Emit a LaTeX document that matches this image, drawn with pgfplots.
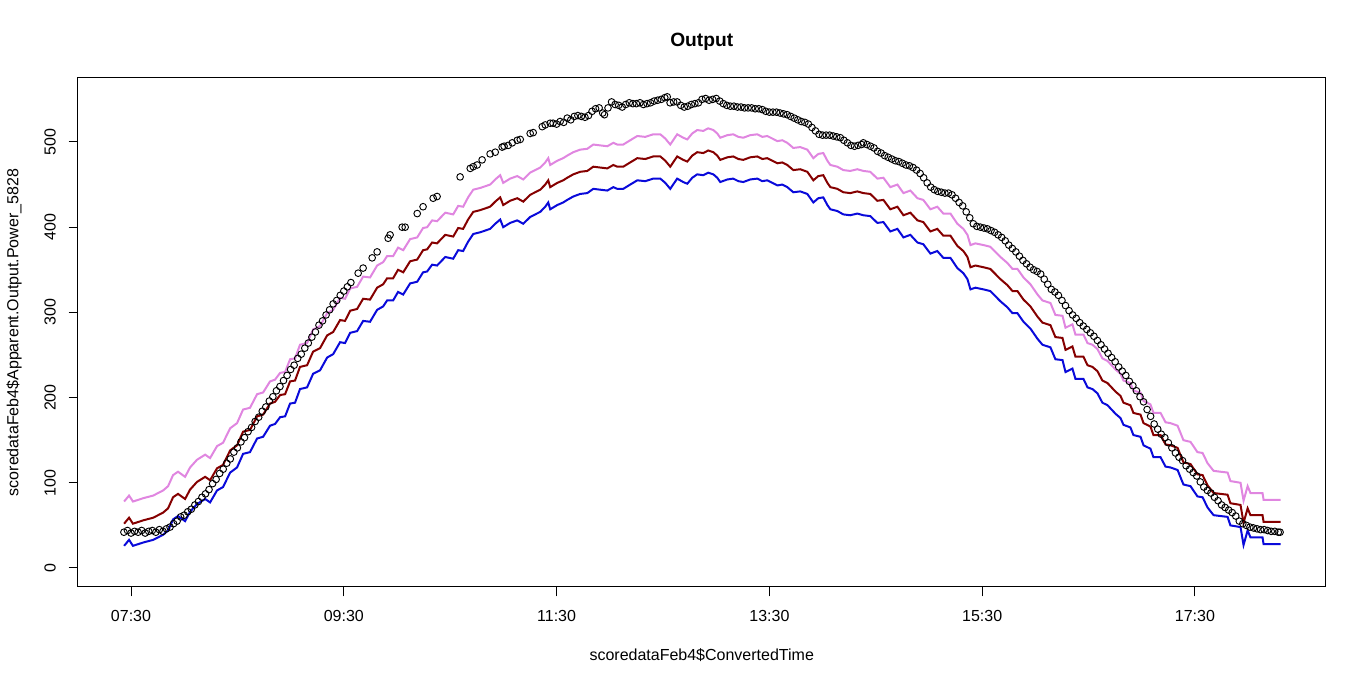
\documentclass[border=0pt,12pt]{standalone}
\usepackage{fontspec}
\setmainfont{Liberation Sans}
\usepackage{pgfplots}
\usepackage{pgfplotstable}
\pgfplotsset{compat=1.18}

\definecolor{rviolet}{HTML}{E086E0}
\definecolor{rdarkred}{HTML}{850000}
\definecolor{rblue}{HTML}{0A0ADA}

% minutes after midnight; lo / fit / hi
\pgfplotstableread{
t lo fit hi
446.1 26 52 78
448.9 33 59 85
451.1 26 52 78
457.0 30 56 82
462.5 33 59 85
468.1 39 65 91
470.9 44 70 96
473.7 57 83 109
476.5 61 87 113
480.5 55 81 107
483.3 66 92 118
487.2 75 101 127
491.8 81 107 133
494.6 77 103 129
498.5 91 117 143
501.9 95 121 147
505.9 112 138 164
509.8 118 144 170
513.2 134 160 186
517.1 136 162 188
521.1 152 178 204
524.5 154 180 206
528.4 167 193 219
531.2 169 195 221
534.1 177 203 229
536.9 178 204 230
539.7 193 219 245
542.5 194 220 246
545.3 210 236 262
549.3 212 238 264
552.7 228 254 280
556.6 232 258 284
560.6 247 273 299
564.0 251 277 303
567.9 265 291 317
570.7 264 290 316
573.6 276 302 328
577.5 278 304 330
580.9 290 316 342
584.8 289 315 341
588.8 303 329 355
592.2 307 333 359
594.4 314 340 366
597.8 314 340 366
600.6 324 350 376
603.5 321 347 373
607.4 334 360 386
611.4 336 362 388
614.7 347 373 399
617.0 348 374 400
619.8 356 382 408
622.6 355 381 407
627.2 365 391 417
631.7 363 389 415
634.5 373 399 425
637.3 372 398 424
640.1 383 409 435
643.0 392 418 444
646.9 394 420 446
652.5 398 424 450
655.4 404 430 456
658.2 409 435 461
659.9 400 426 452
663.8 405 431 457
667.8 408 434 460
671.2 404 430 456
675.1 412 438 464
680.8 418 444 470
683.6 424 450 476
685.3 429 455 481
686.4 421 447 473
690.4 426 452 478
693.7 429 455 481
696.0 432 458 484
699.4 436 462 488
703.3 439 465 491
707.3 440 466 492
710.7 445 471 497
714.6 444 470 496
718.6 443 469 495
722.0 447 473 499
724.2 445 471 497
727.6 445 471 497
731.5 450 476 502
735.5 455 481 507
740.0 454 480 506
744.5 457 483 509
748.5 457 483 509
751.3 452 478 504
754.1 445 471 497
758.0 457 483 509
761.4 453 479 505
763.7 451 477 503
766.5 458 484 510
769.3 462 488 514
772.7 461 487 513
775.5 464 490 516
778.4 462 488 514
780.6 458 484 510
782.3 453 479 505
786.3 456 482 508
789.6 457 483 509
792.5 454 480 506
795.3 453 479 505
799.2 456 482 508
803.2 457 483 509
806.0 454 480 506
808.8 455 481 507
811.7 452 478 504
814.5 449 475 501
817.3 450 476 502
820.1 447 473 499
823.5 441 467 493
827.4 442 468 494
831.4 439 465 491
833.1 434 460 486
834.8 429 455 481
837.6 434 460 486
840.4 435 461 487
842.7 426 452 478
844.4 421 447 473
848.3 419 445 471
851.7 415 441 467
855.6 414 440 466
859.6 416 442 468
863.0 414 440 466
866.9 413 439 465
870.9 405 431 457
874.3 406 432 458
878.2 395 421 447
882.2 398 424 450
885.6 388 414 440
889.5 391 417 443
893.5 382 408 434
896.8 380 406 432
900.8 369 395 421
904.7 372 398 424
908.1 364 390 416
912.1 364 390 416
916.0 352 378 404
919.4 346 372 398
921.7 339 365 391
923.4 327 353 379
926.2 329 355 381
930.7 327 353 379
934.6 325 351 377
940.3 313 339 365
944.2 306 332 358
947.1 299 325 351
949.9 299 325 351
953.3 289 315 341
957.2 281 307 333
961.2 269 295 321
964.0 262 288 314
968.5 259 285 311
971.3 245 271 297
975.3 244 270 296
977.0 230 256 282
980.9 234 260 286
982.6 222 248 274
987.1 222 248 274
989.4 212 238 264
992.2 210 236 262
995.0 205 231 257
997.8 194 220 246
1000.7 191 217 243
1005.2 181 207 233
1008.0 176 202 228
1009.7 168 194 220
1013.6 165 191 217
1015.3 156 182 208
1019.3 154 180 206
1021.0 144 170 196
1024.9 140 166 192
1026.6 130 156 182
1030.6 130 156 182
1033.4 119 145 171
1036.2 118 144 170
1040.2 115 141 167
1043.5 98 124 150
1047.5 96 122 148
1051.4 84 110 136
1054.3 83 109 135
1057.1 71 97 123
1060.5 62 88 114
1064.4 61 87 113
1068.4 60 86 112
1070.0 50 76 102
1072.9 49 75 101
1075.7 48 74 100
1077.4 27 53 79
1079.7 44 70 96
1081.3 36 62 88
1084.7 36 62 88
1088.1 36 62 88
1088.7 28 54 80
1092.6 28 54 80
1098.3 28 54 80
}\bands

% observed apparent output power
\pgfplotstableread{
t p
446 42
448 44
450 41
452 43
454 42
456 44
458 41
460 43
462 44
464 42
466 45
468 43
470 46
472 48
474 52
476 55
478 60
480 62
482 66
484 69
486 74
488 78
490 83
492 87
494 92
496 99
498 104
500 111
502 116
504 123
506 128
508 136
510 141
512 148
514 153
516 160
518 165
520 172
522 177
524 184
526 189
528 196
530 201
532 208
534 213
536 220
538 226
540 233
542 238
544 246
546 251
548 258
550 264
552 271
554 277
556 285
558 290
560 297
562 303
564 310
566 314
568 320
570 325
572 330
574 335
578.1 346
580.9 352
586.0 364
588.8 371
595.0 387
596.1 391
602.9 400
604.6 400
611.4 416
614.7 424
620.4 434
622.6 436
635.6 459
641.3 469
643.0 471
645.2 473
648.0 479
652.5 486
655.4 488
659.3 494
660.4 495
662.7 496
665.0 499
667.8 502
669.5 503
675.1 510
676.8 511
681.9 518
683.6 520
686.4 522
688 522
690 521
692 524
694 523
696 528
698 526
700 530
702 531
704 530
706 529
708 531
710 536
712 539
714 540
716 534
717 532
719 540
721 547
723 544
725 543
727 541
729 544
731 546
733 545
735 545
737 546
739 544
741 545
743 546
745 548
747 549
749 550
751 552
752.4 553
754 546
756 547
758 547
760 543
762 541
764 542
766 544
768 545
770 546
772 550
774 551
776 549
778 550
780 551
782 548
784 545
786 543
788 542
790 542
792 541
794 541
796 540
798 540
800 540
802 539
804 539
806 538
808 536
810 535
812 535
814 535
816 534
818 533
820 532
822 530
824 528
826 526
828 524
830 523
832 521
834 517
836 513
838 509
840 508
842 508
844 508
846 507
848 506
850 505
852 502
854 499
856 496
858 495
860 496
862 497
863 499
865 497
867 495
869 493
871 489
873 487
875 484
877 482
879 480
881 478
883 477
885 475
887 473
889 472
891 470
893 467
895 463
897 458
899 452
901 447
903 444
905 442
907 441
909 440
911 440
913 438
915 434
917 429
919 425
921 418
923 411
925 404
927 401
929 400
931 399
933 398
935 396
937 394
939 391
941 388
943 384
945 379
947 375
949 371
951 366
953 361
955 357
957 353
959 350
961 348
963 345
965 339
967 333
969 327
971 324
973 320
975 314
977 308
979 302
981 297
983 293
985 288
987 284
989 280
991 276
993 272
995 267
997 262
999 257
1001 252
1003 247
1005 242
1007 236
1009 231
1011 226
1013 219
1015 214
1017 208
1019 201
1021 195
1023 186
1025 178
1027 169
1029 163
1031 157
1033 153
1035 147
1037 141
1039 135
1041 130
1043 126
1045 120
1047 116
1049 112
1051 108
1053 101
1055 95
1057 91
1059 88
1061 83
1063 79
1065 74
1067 71
1069 68
1071 65
1073 61
1075 55
1077 52
1079 50
1081 48
1083 47
1085 46
1087 45
1089 45
1091 44
1093 43
1095 43
1097 42
1098 42
}\obs

\begin{document}
\begin{tikzpicture}
\begin{axis}[
  name=ax,
  scale only axis,
  width=935.6pt, height=381.75pt,
  xmin=420.1, xmax=1123.6,
  ymin=-22.3, ymax=575.1,
  xtick={450,570,690,810,930,1050},
  xticklabels={07:30,09:30,11:30,13:30,15:30,17:30},
  ytick={0,100,200,300,400,500},
  xtick pos=left, ytick pos=left,
  tick align=outside,
  major tick length=7pt,
  tick style={black, line width=0.75pt},
  axis line style={line width=0.75pt},
  /pgf/number format/assume math mode=true,
  xticklabel style={anchor=north, inner sep=0pt, yshift=-10.5pt},
  yticklabel style={xshift=-9.5pt, rotate=90, anchor=south, inner sep=0pt},
  every axis title/.style={at={(0.5,1)}, anchor=center, yshift=27pt,
    inner sep=0pt, font=\bfseries\fontsize{14.4}{17}\selectfont},
  every axis x label/.style={at={(0.5,0)}, anchor=center, yshift=-51pt, inner sep=0pt},
  every axis y label/.style={at={(0,0.5)}, xshift=-48pt, rotate=90, anchor=center, inner sep=0pt},
  title={Output},
  xlabel={scoredataFeb4\$ConvertedTime},
  ylabel={scoredataFeb4\$Apparent.Output.Power\_5828},
]
\addplot[only marks, mark=o, mark size=2.5pt, mark options={black, line width=0.7pt}] table[x=t, y=p] {\obs};
\addplot[rviolet, line width=1.5pt] table[x=t, y=hi] {\bands};
\addplot[rdarkred, line width=1.5pt] table[x=t, y=fit] {\bands};
\addplot[rblue, line width=1.5pt] table[x=t, y=lo] {\bands};
\end{axis}
\pgfresetboundingbox
\path ([shift={(-58.5pt,-73.5pt)}]ax.south west) rectangle ([shift={(30.4pt,58.5pt)}]ax.north east);
\end{tikzpicture}
\end{document}
